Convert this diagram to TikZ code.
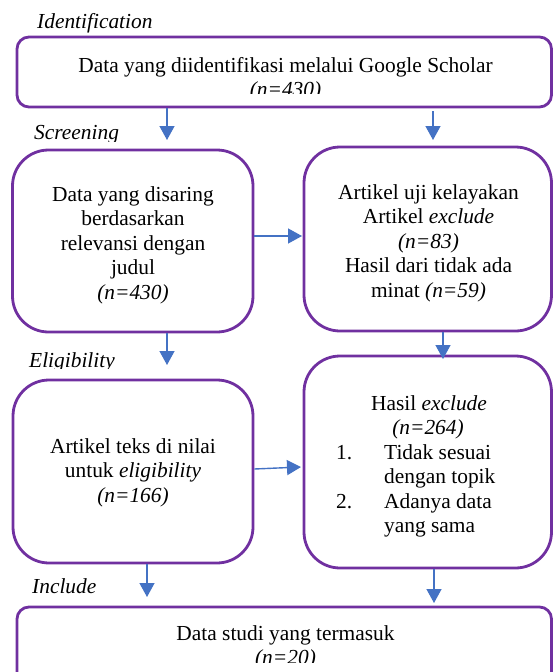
\documentclass[tikz,border=0pt]{standalone}
\usepackage{fontspec}
\setmainfont{Liberation Serif}
\usetikzlibrary{arrows.meta}
\definecolor{boxpurple}{HTML}{7030A0}
\definecolor{arrblue}{HTML}{4472C4}
\tikzset{
  box/.style={draw=boxpurple, line width=2.8pt, rectangle, inner sep=0pt},
  bigbox/.style={box, rounded corners=36pt},
  widebox/.style={box, rounded corners=12pt},
  txt/.style={inner sep=0pt, anchor=base, font=\fontsize{21.4}{24.5}\selectfont},
  ltxt/.style={txt, anchor=base west},
  lbl/.style={inner sep=0pt, anchor=base west, font=\fontsize{21.4}{24.5}\selectfont\itshape},
  arr/.style={draw=arrblue, line width=1.4pt, -{Triangle[width=15pt,length=14pt]}}
}
\begin{document}
\begin{tikzpicture}[x=1pt,y=-1pt]
\useasboundingbox (0,0) rectangle (553,672);
\clip (0,0) rectangle (553,672);

% boxes
\node[widebox, minimum width=534.5pt, minimum height=70pt] (top) at (284.25,72) {};
\node[bigbox, minimum width=240.5pt, minimum height=182pt] (l2) at (132.75,241) {};
\node[bigbox, minimum width=247.5pt, minimum height=184pt] (r2) at (427.75,239) {};
\node[bigbox, minimum width=240pt, minimum height=183pt] (l3) at (133,471.5) {};
\node[bigbox, minimum width=247.5pt, minimum height=212pt] (r3) at (427.75,462) {};
\node[widebox, minimum width=534.5pt, minimum height=93pt] (bot) at (284.25,653.5) {};

% stage labels
\node[lbl] (lid) at (37,28) {Identification};
\begin{scope}
\clip (0,100) rectangle (553,141);
\node[lbl] (lsc) at (34,139) {Screening};
\end{scope}
\begin{scope}
\clip (0,340) rectangle (553,368);
\node[lbl] (lel) at (29,367) {Eligibility};
\end{scope}
\node[lbl] (lin) at (32,593) {Include};

% top box text
\node[txt] (t1) at (285.5,72) {Data yang diidentifikasi melalui Google Scholar};
\begin{scope}
\clip (0,60) rectangle (553,93);
\node[txt] (t2) at (285.5,96.5) {\itshape (n=430)};
\end{scope}

% left box 2 text
\node[txt] (a1) at (133,201) {Data yang disaring};
\node[txt] (a2) at (133,225.5) {berdasarkan};
\node[txt] (a3) at (133,250) {relevansi dengan};
\node[txt] (a4) at (133,274.5) {judul};
\node[txt] (a5) at (133,299) {\itshape (n=430)};

% right box 2 text
\node[txt] (b1) at (428.5,199) {Artikel uji kelayakan};
\node[txt] (b2) at (428.5,223.5) {Artikel \textit{exclude}};
\node[txt] (b3) at (428.5,248) {\itshape (n=83)};
\node[txt] (b4) at (428.5,272.5) {Hasil dari tidak ada};
\node[txt] (b5) at (428.5,297) {minat \textit{(n=59)}};

% left box 3 text
\node[txt] (c1) at (133,453) {Artikel teks di nilai};
\node[txt] (c2) at (133,477.5) {untuk \textit{eligibility}};
\node[txt] (c3) at (133,502) {\itshape (n=166)};

% right box 3 text
\node[txt] (d1) at (429,410) {Hasil \textit{exclude}};
\node[txt] (d2) at (428,434.5) {\itshape (n=264)};
\node[ltxt] (d3n) at (336,459) {1.};
\node[ltxt] (d3) at (384,459) {Tidak sesuai};
\node[ltxt] (d4) at (384,483.5) {dengan topik};
\node[ltxt] (d5n) at (336,508) {2.};
\node[ltxt] (d5) at (384,508) {Adanya data};
\node[ltxt] (d6) at (384,532.5) {yang sama};

% bottom box text
\node[txt] (e1) at (285.5,640) {Data studi yang termasuk};
\begin{scope}
\clip (0,620) rectangle (553,662);
\node[txt] (e2) at (285.5,664.5) {\itshape (n=20)};
\end{scope}

% arrow tips
\coordinate (p1) at (167,140);
\coordinate (p2) at (433,140);
\coordinate (p3) at (302,236);
\coordinate (p4) at (167,365);
\coordinate (p5) at (443,359);
\coordinate (p6) at (301,467);
\coordinate (p7) at (147,597);
\coordinate (p8) at (434,603);

% connectors
\draw[arr] (top.south -| p1) -- (p1);
\draw[arr] ([yshift=-3pt]top.south -| p2) -- (p2);
\draw[arr] (l2.east |- p3) -- (p3);
\draw[arr] (l2.south -| p4) -- (p4);
\draw[arr] (r2.south -| p5) -- (p5);
\draw[arr] ([yshift=-2pt]l3.east |- p6) -- (p6);
\draw[arr] (l3.south -| p7) -- (p7);
\draw[arr] (r3.south -| p8) -- (p8);
\end{tikzpicture}
\end{document}
